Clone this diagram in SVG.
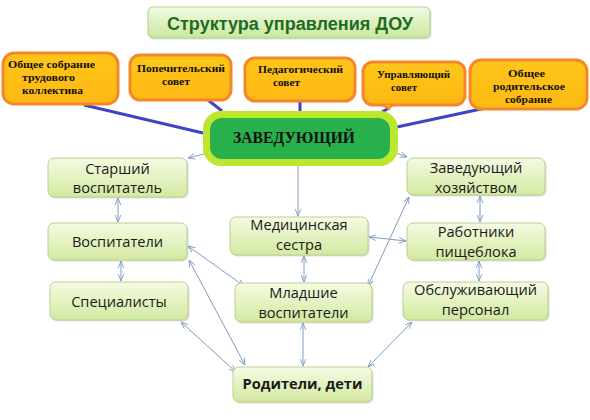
<svg xmlns="http://www.w3.org/2000/svg" width="590" height="420" viewBox="0 0 590 420">
<defs>
<linearGradient id="gg" x1="0" y1="0" x2="0" y2="1">
<stop offset="0" stop-color="#F5FBE3"/>
<stop offset="1" stop-color="#D3E9A0"/>
</linearGradient>
<linearGradient id="tg" x1="0" y1="0" x2="0" y2="1">
<stop offset="0" stop-color="#F2FAE2"/>
<stop offset="1" stop-color="#C9E79F"/>
</linearGradient>
<linearGradient id="og" x1="0" y1="0" x2="0" y2="1">
<stop offset="0" stop-color="#FFC61A"/>
<stop offset="1" stop-color="#FDB813"/>
</linearGradient>
<marker id="a" viewBox="0 0 10 10" refX="10" refY="5" markerWidth="7" markerHeight="7" markerUnits="userSpaceOnUse" orient="auto-start-reverse">
<path d="M0,1 L10,5 L0,9" fill="none" stroke="#7F9CC4" stroke-width="1.3"/>
</marker>
</defs>
<style>
.gb{fill:url(#gg);stroke:#B9D08E;stroke-width:1}
.sh{fill:#9aa08a;opacity:0.35}
.ob{fill:url(#og);stroke:#F5872B;stroke-width:3}
.gt{font-family:"Open Sans","Liberation Sans",sans-serif;font-size:14.6px;fill:#1a1a1a;text-anchor:middle}
.ot{font-family:"Liberation Serif",serif;font-size:11px;font-weight:bold;fill:#111}
.cb{stroke:#7F9CC4;stroke-width:1;fill:none;marker-start:url(#a);marker-end:url(#a)}
.ce{stroke:#7F9CC4;stroke-width:1;fill:none;marker-end:url(#a)}
.bl{stroke:#3D45C6;stroke-width:3;fill:none}
</style>
<rect width="590" height="420" fill="#ffffff"/>

<g id="title">
<rect x="149.5" y="8.5" width="282" height="31" rx="5" fill="#b0b8a0" opacity="0.4"/>
<rect x="148" y="7" width="282" height="31" rx="5" fill="url(#tg)" stroke="#B3CD90" stroke-width="1"/>
<text x="290" y="30" font-family="Liberation Sans,sans-serif" font-size="18" font-weight="bold" fill="#1E6B22" text-anchor="middle" textLength="246" lengthAdjust="spacingAndGlyphs">Структура управления ДОУ</text>
</g>

<g id="connectors">
<line class="bl" x1="84" y1="105" x2="203" y2="133"/>
<line class="bl" x1="208" y1="100" x2="222" y2="111"/>
<line class="bl" x1="300" y1="102" x2="300" y2="111"/>
<line class="bl" x1="389" y1="108" x2="382" y2="112"/>
<line class="bl" x1="495" y1="106" x2="397" y2="127"/>
<line class="ce" x1="204" y1="154" x2="188" y2="158"/>
<line class="ce" x1="396" y1="153" x2="407" y2="157"/>
<line class="ce" x1="298" y1="166" x2="298" y2="216"/>
<line class="cb" x1="118" y1="198" x2="118" y2="222"/>
<line class="cb" x1="121" y1="261" x2="121" y2="281"/>
<line class="cb" x1="480" y1="196" x2="480" y2="222"/>
<line class="cb" x1="479" y1="261" x2="479" y2="281"/>
<line class="cb" x1="369" y1="237" x2="406" y2="241"/>
<line class="cb" x1="304" y1="256" x2="304" y2="282"/>
<line class="cb" x1="188" y1="246" x2="244" y2="286"/>
<line class="cb" x1="189" y1="260" x2="245" y2="365"/>
<line class="cb" x1="368" y1="286" x2="409" y2="197"/>
<line class="cb" x1="181" y1="322" x2="236" y2="372"/>
<line class="cb" x1="303" y1="323" x2="303" y2="366"/>
<line class="cb" x1="412" y1="322" x2="368" y2="367"/>
</g>

<g id="n-sobranie-kollektiva">
<rect class="ob" x="3" y="53" width="115" height="51" rx="11"/>
<text class="ot" x="8" y="68" textLength="87" lengthAdjust="spacingAndGlyphs">Общее собрание</text>
<text class="ot" x="22" y="81" textLength="53" lengthAdjust="spacingAndGlyphs">трудового</text>
<text class="ot" x="22" y="94" textLength="61" lengthAdjust="spacingAndGlyphs">коллектива</text>
</g>

<g id="n-popechitelsky">
<rect class="ob" x="130" y="55" width="101" height="45" rx="10"/>
<text class="ot" x="137" y="72" textLength="88" lengthAdjust="spacingAndGlyphs">Попечительский</text>
<text class="ot" x="162" y="85" textLength="28" lengthAdjust="spacingAndGlyphs">совет</text>
</g>

<g id="n-pedagogichesky">
<rect class="ob" x="245" y="58" width="110" height="43" rx="10"/>
<text class="ot" x="258" y="73" textLength="85" lengthAdjust="spacingAndGlyphs">Педагогический</text>
<text class="ot" x="273" y="86" textLength="27" lengthAdjust="spacingAndGlyphs">совет</text>
</g>

<g id="n-upravlyayushchy">
<rect class="ob" x="363" y="62" width="102" height="43" rx="10"/>
<path d="M381,105 Q386,106 389,109 Q390,106 394,105" fill="#FDB813" stroke="#F5872B" stroke-width="2"/>
<text class="ot" x="377" y="78" textLength="73" lengthAdjust="spacingAndGlyphs">Управляющий</text>
<text class="ot" x="391" y="91" textLength="26" lengthAdjust="spacingAndGlyphs">совет</text>
</g>

<g id="n-roditelskoe">
<rect class="ob" x="470" y="60" width="117" height="49" rx="11"/>
<text class="ot" x="508" y="77" textLength="37" lengthAdjust="spacingAndGlyphs">Общее</text>
<text class="ot" x="493" y="90" textLength="72" lengthAdjust="spacingAndGlyphs">родительское</text>
<text class="ot" x="505" y="103" textLength="47" lengthAdjust="spacingAndGlyphs">собрание</text>
</g>

<g id="n-zaveduyushchy">
<rect x="203" y="111" width="195" height="55" rx="18" fill="#BDE62E"/>
<rect x="210" y="118" width="180" height="41" rx="12" fill="#27B04B"/>
<text x="294" y="143" font-family="Liberation Serif,serif" font-size="17" font-weight="bold" fill="#111" text-anchor="middle" textLength="122" lengthAdjust="spacingAndGlyphs">ЗАВЕДУЮЩИЙ</text>
</g>

<g id="n-starshy">
<rect class="sh" x="49.5" y="159.5" width="139" height="39" rx="6"/>
<rect class="gb" x="48" y="158" width="139" height="39" rx="6"/>
<text class="gt" x="117.5" y="174">Старший</text>
<text class="gt" x="117.5" y="193">воспитатель</text>
</g>

<g id="n-vospitateli">
<rect class="sh" x="49.5" y="224.5" width="139" height="37" rx="6"/>
<rect class="gb" x="48" y="223" width="139" height="37" rx="6"/>
<text class="gt" x="117.5" y="247">Воспитатели</text>
</g>

<g id="n-spetsialisty">
<rect class="sh" x="51.5" y="283.5" width="138" height="38" rx="6"/>
<rect class="gb" x="50" y="282" width="138" height="38" rx="6"/>
<text class="gt" x="119" y="307">Специалисты</text>
</g>

<g id="n-medsestra">
<rect class="sh" x="231.5" y="218.5" width="138" height="38" rx="6"/>
<rect class="gb" x="230" y="217" width="138" height="38" rx="6"/>
<text class="gt" x="299" y="230">Медицинская</text>
<text class="gt" x="299" y="250">сестра</text>
</g>

<g id="n-mladshie">
<rect class="sh" x="236.5" y="284.5" width="137" height="39" rx="6"/>
<rect class="gb" x="235" y="283" width="137" height="39" rx="6"/>
<text class="gt" x="303.5" y="298">Младшие</text>
<text class="gt" x="303.5" y="318">воспитатели</text>
</g>

<g id="n-zavhoz">
<rect class="sh" x="408.5" y="159.5" width="138" height="37" rx="6"/>
<rect class="gb" x="407" y="158" width="138" height="37" rx="6"/>
<text class="gt" x="476" y="173">Заведующий</text>
<text class="gt" x="476" y="193">хозяйством</text>
</g>

<g id="n-pishcheblok">
<rect class="sh" x="408.5" y="224.5" width="138" height="37" rx="6"/>
<rect class="gb" x="407" y="223" width="138" height="37" rx="6"/>
<text class="gt" x="476" y="237">Работники</text>
<text class="gt" x="476" y="257">пищеблока</text>
</g>

<g id="n-obsluzhivayushchy">
<rect class="sh" x="404.5" y="283.5" width="145" height="38" rx="6"/>
<rect class="gb" x="403" y="282" width="145" height="38" rx="6"/>
<text class="gt" x="475.5" y="295">Обслуживающий</text>
<text class="gt" x="475.5" y="315">персонал</text>
</g>

<g id="n-roditeli">
<rect class="sh" x="234.5" y="368.5" width="139" height="35" rx="6"/>
<rect class="gb" x="233" y="367" width="139" height="35" rx="6"/>
<text class="gt" x="302.5" y="389" font-weight="bold">Родители, дети</text>
</g>
</svg>
